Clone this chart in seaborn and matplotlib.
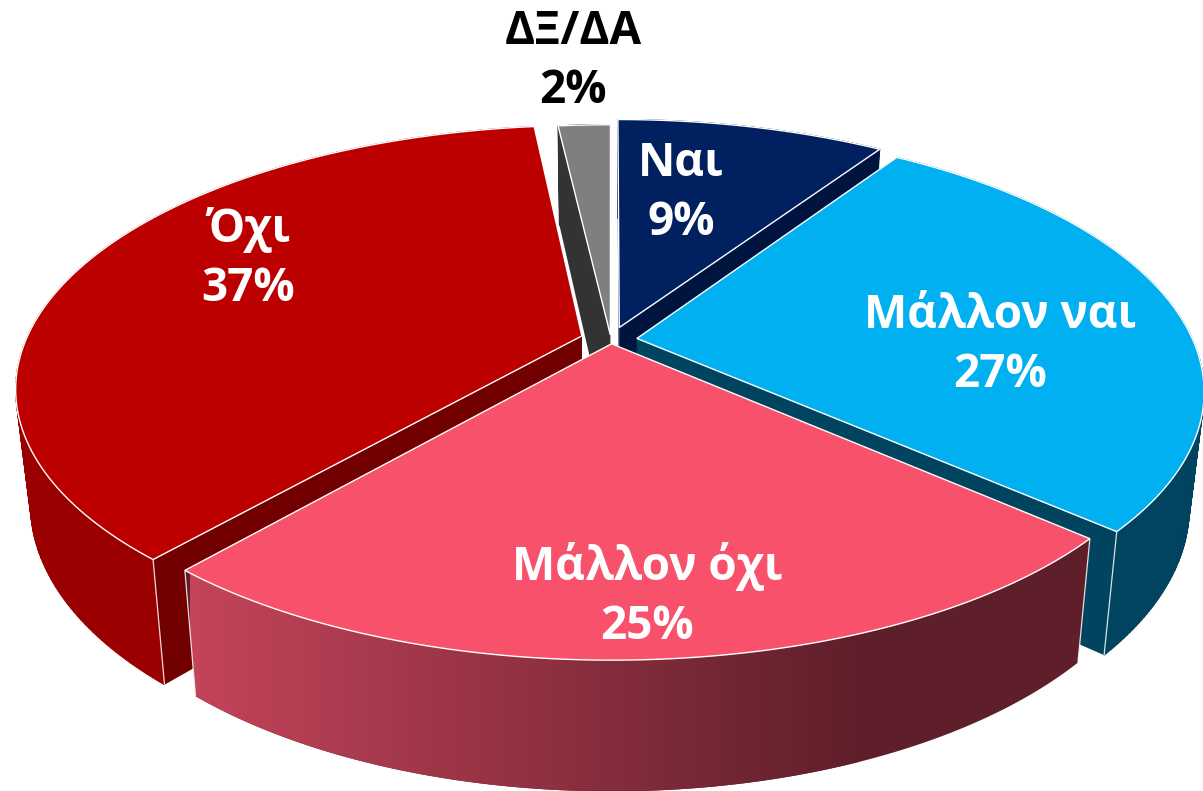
import numpy as np
import seaborn as sns
import matplotlib
matplotlib.use("Agg")
import matplotlib.pyplot as plt
from matplotlib.collections import PolyCollection
from matplotlib.patches import Polygon

# shares, clockwise from 12 o'clock (labels show them rounded)
labels = ["Ναι", "Μάλλον ναι", "Μάλλον όχι", "Όχι", "ΔΞ/ΔΑ"]
values = [9.3, 27.3, 24.7, 36.9, 1.8]
explode = [0.052, 0.047, 0.015, 0.055, 0.02]

top_colors = ["#002060", "#00B0F0", "#F8516B", "#BC0000", "#7F7F7F"]
outer_colors = ["#001440", "#00445F", "#C4445A", "#9A0000", "#333333"]
radial_colors = ["#001440", "#00445F", "#5F1F2A", "#720000", "#333333"]
text_colors = ["white", "white", "white", "white", "black"]
label_xy = [(681, 193), (1000, 345), (647, 596), (248, 259), (573, 61)]
draw_order = [4, 0, 3, 1, 2]

# fake 3d camera, in pixels
CX, CY = 611, 340
RX, RY, TILT = 556, 253, 0.195


def project(u, v):
    s = 1 / (1 + TILT * v)
    return CX + RX * u * s, CY - RY * v * s


def drop(x, y):
    # same point on the bottom face of the slab
    return CX + (x - CX) * 0.975, CY + (y - CY) * 1.06 + 112


sns.set_theme(style="white")
plt.rcParams["font.family"] = ["Open Sans", "DejaVu Sans"]

fig = plt.figure(figsize=(12.03, 7.91), dpi=100)
ax = fig.add_axes([0, 0, 1, 1])

wedges, _ = ax.pie(values, explode=explode, startangle=90, counterclock=False)

wall_cmap = sns.blend_palette(["#C4445A", "#5F1F2A"], 256, as_cmap=True)

for z, i in enumerate(draw_order):
    w = wedges[i]
    w.set_visible(False)
    theta = np.radians(np.linspace(w.theta1, w.theta2, 160))
    cu, cv = w.center
    arc_x, arc_y = project(cu + np.cos(theta), cv + np.sin(theta))
    tip_x, tip_y = project(cu, cv)
    bx, by = drop(arc_x, arc_y)
    tip_bx, tip_by = drop(tip_x, tip_y)

    # radial walls
    for a in (0, -1):
        quad = [(tip_x, tip_y), (arc_x[a], arc_y[a]), (bx[a], by[a]), (tip_bx, tip_by)]
        ax.add_patch(Polygon(quad, closed=True, fc=radial_colors[i], ec="none", zorder=z * 3 + 1))

    # outer wall, as strips so the silhouette follows the sweep
    strips = [[(arc_x[a], arc_y[a]), (arc_x[a + 1], arc_y[a + 1]), (bx[a + 1], by[a + 1]), (bx[a], by[a])]
              for a in range(len(theta) - 1)]
    if labels[i] == "Μάλλον όχι":
        wall = np.r_[np.c_[arc_x, arc_y], np.c_[bx, by][::-1]]
        ax.add_patch(Polygon(wall, closed=True, fc="#5F1F2A", ec="none", zorder=z * 3 + 1.9))
        patch = Polygon(wall, closed=True, fc="none", ec="none", zorder=z * 3 + 2)
        ax.add_patch(patch)
        ramp = np.linspace(0, 1, 256).reshape(1, -1)
        im = ax.imshow(ramp, cmap=wall_cmap, extent=(190, 860, 791, 0), aspect="auto",
                       interpolation="bilinear", zorder=z * 3 + 2)
        im.set_clip_path(patch)
    else:
        ax.add_collection(PolyCollection(strips, facecolors=outer_colors[i], edgecolors=outer_colors[i],
                                         linewidths=0.8, zorder=z * 3 + 2))

    # corners of the slab, only the ones facing the camera
    for a in (0, -1):
        if np.sin(theta[a]) < 0:
            ax.plot([arc_x[a], bx[a]], [arc_y[a], by[a]], color="white", lw=0.9, alpha=0.85,
                    solid_capstyle="butt", zorder=z * 3 + 2.5)

    # top face
    top = np.r_[[[tip_x, tip_y]], np.c_[arc_x, arc_y]]
    ax.add_patch(Polygon(top, closed=True, fc=top_colors[i], ec="white", lw=1.0, zorder=z * 3 + 3))

for i, (x, y) in enumerate(label_xy):
    ax.text(x, y, f"{labels[i]}\n{values[i]:.0f}%", ha="center", va="center", color=text_colors[i],
            fontsize=33, fontweight="bold", linespacing=1.31, zorder=50)

ax.set_aspect("auto")
ax.set_xlim(0, 1203)
ax.set_ylim(791, 0)
ax.axis("off")

fig.savefig("out.png", dpi=100, facecolor="white")
